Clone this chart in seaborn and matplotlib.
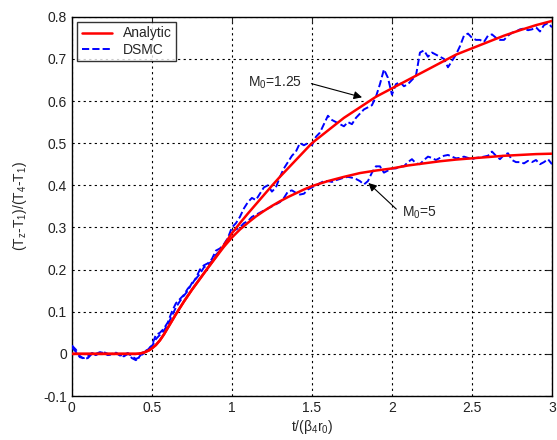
import numpy as np
import pandas as pd
import seaborn as sns
import matplotlib.pyplot as plt
from matplotlib.ticker import FormatStrFormatter

# analytic curves
t_an = [0, 0.1, 0.2, 0.3, 0.4, 0.42, 0.45, 0.48, 0.5, 0.525, 0.55, 0.575, 0.6, 0.625, 0.65, 0.7,
        0.75, 0.8, 0.85, 0.9, 0.95, 1.0, 1.05, 1.1, 1.15, 1.2, 1.25, 1.3, 1.35, 1.4, 1.45, 1.5,
        1.6, 1.7, 1.8, 1.9, 2.0, 2.1, 2.2, 2.3, 2.4, 2.5, 2.6, 2.7, 2.8, 2.9, 3.0]
an_hi = [0, 0, 0, 0, 0, 0.0005, 0.003, 0.008, 0.013, 0.021, 0.032, 0.046, 0.062, 0.078, 0.094, 0.124,
         0.152, 0.178, 0.204, 0.23, 0.258, 0.286, 0.31, 0.333, 0.355, 0.377, 0.399, 0.42, 0.44, 0.46, 0.48, 0.50,
         0.53, 0.56, 0.585, 0.61, 0.63, 0.65, 0.67, 0.69, 0.71, 0.725, 0.74, 0.755, 0.768, 0.78, 0.79]
an_lo = [0, 0, 0, 0, 0, 0.0005, 0.003, 0.008, 0.013, 0.021, 0.032, 0.046, 0.062, 0.078, 0.094, 0.124,
         0.152, 0.178, 0.204, 0.229, 0.254, 0.276, 0.295, 0.311, 0.326, 0.339, 0.351, 0.362, 0.372, 0.381, 0.39, 0.398,
         0.41, 0.42, 0.429, 0.435, 0.44, 0.447, 0.452, 0.457, 0.461, 0.464, 0.467, 0.47, 0.472, 0.474, 0.475]

# DSMC curves, sampled every 0.025
t_dsmc = np.linspace(0, 3, 121)
dsmc_hi = [0.02, 0.01, -0.005, -0.012, -0.01, 0.0, -0.003, 0.002, 0.004, 0.0,
           -0.004, 0.002, -0.002, -0.006, 0.0, -0.01, -0.015, -0.005, 0.005, 0.01,
           0.02, 0.045, 0.05, 0.06, 0.075, 0.1, 0.12, 0.13, 0.14, 0.155,
           0.165, 0.18, 0.2, 0.21, 0.215, 0.225, 0.245, 0.25, 0.26, 0.275,
           0.30, 0.31, 0.325, 0.345, 0.36, 0.37, 0.365, 0.38, 0.395, 0.40,
           0.385, 0.395, 0.42, 0.44, 0.455, 0.47, 0.48, 0.50, 0.495, 0.50,
           0.495, 0.515, 0.525, 0.545, 0.565, 0.555, 0.55, 0.545, 0.54, 0.55,
           0.545, 0.56, 0.57, 0.58, 0.585, 0.59, 0.61, 0.64, 0.675, 0.655,
           0.615, 0.64, 0.645, 0.635, 0.64, 0.65, 0.66, 0.715, 0.72, 0.705,
           0.715, 0.71, 0.705, 0.70, 0.68, 0.695, 0.71, 0.73, 0.755, 0.76,
           0.75, 0.745, 0.745, 0.74, 0.755, 0.758, 0.75, 0.745, 0.745, 0.755,
           0.762, 0.765, 0.77, 0.772, 0.768, 0.77, 0.775, 0.765, 0.78, 0.785,
           0.775]
dsmc_lo = [0.015, 0.005, -0.008, -0.01, -0.006, 0.002, 0.0, 0.004, 0.002, -0.003,
           0.0, 0.003, -0.004, -0.002, 0.002, -0.006, -0.012, -0.008, 0.002, 0.012,
           0.018, 0.035, 0.045, 0.055, 0.07, 0.09, 0.11, 0.125, 0.138, 0.15,
           0.168, 0.178, 0.19, 0.205, 0.212, 0.22, 0.235, 0.245, 0.255, 0.27,
           0.29, 0.295, 0.30, 0.31, 0.315, 0.325, 0.33, 0.335, 0.34, 0.345,
           0.35, 0.355, 0.36, 0.37, 0.385, 0.388, 0.382, 0.378, 0.38, 0.39,
           0.395, 0.40, 0.405, 0.41, 0.41, 0.408, 0.412, 0.415, 0.418, 0.42,
           0.418, 0.415, 0.41, 0.402, 0.41, 0.43, 0.445, 0.445, 0.43, 0.435,
           0.44, 0.44, 0.445, 0.445, 0.455, 0.462, 0.452, 0.45, 0.46, 0.468,
           0.465, 0.46, 0.465, 0.47, 0.472, 0.468, 0.464, 0.465, 0.468, 0.465,
           0.462, 0.465, 0.466, 0.468, 0.47, 0.48, 0.47, 0.462, 0.472, 0.476,
           0.46, 0.455, 0.455, 0.452, 0.458, 0.455, 0.46, 0.45, 0.455, 0.462,
           0.45]

sns.set_style("white")
plt.rcParams['font.family'] = ['Liberation Sans', 'DejaVu Sans']
plt.rcParams['mathtext.fontset'] = 'custom'
plt.rcParams['mathtext.rm'] = 'Liberation Sans'
plt.rcParams['mathtext.it'] = 'Liberation Sans'

fig = plt.figure(figsize=(5.57, 4.40), dpi=100)
ax = fig.add_axes([0.129, 0.10, 0.862, 0.862])

df_an = pd.DataFrame({'t': t_an, 'hi': an_hi, 'lo': an_lo})
df_ds = pd.DataFrame({'t': t_dsmc, 'hi': dsmc_hi, 'lo': dsmc_lo})

sns.lineplot(data=df_ds, x='t', y='hi', ax=ax, color='blue', lw=1.4, linestyle='--', label='DSMC', zorder=3)
sns.lineplot(data=df_ds, x='t', y='lo', ax=ax, color='blue', lw=1.4, linestyle='--', zorder=3)
sns.lineplot(data=df_an, x='t', y='hi', ax=ax, color='red', lw=1.8, label='Analytic', zorder=4)
sns.lineplot(data=df_an, x='t', y='lo', ax=ax, color='red', lw=1.8, zorder=4)

ax.set_xlim(0, 3)
ax.set_ylim(-0.1, 0.8)
ax.set_xticks(np.arange(0, 3.01, 0.5))
ax.set_yticks(np.arange(-0.1, 0.81, 0.1))
ax.xaxis.set_major_formatter(FormatStrFormatter('%g'))
ax.yaxis.set_major_formatter(plt.FuncFormatter(lambda v, p: '%g' % round(v, 2)))
ax.grid(True, color='black', linestyle=(0, (2, 3)), linewidth=0.8)
ax.tick_params(direction='in', length=4, labelsize=10, colors='#222222', top=True, right=True)
for s in ax.spines.values():
    s.set_color('black')
    s.set_linewidth(1.0)

ax.set_xlabel(r't/($\beta_4$r$_0$)', fontsize=10, labelpad=2)
ax.set_ylabel(r'(T$_z$-T$_1$)/(T$_4$-T$_1$)', fontsize=10, labelpad=10)

handles, labels = ax.get_legend_handles_labels()
order = [labels.index('Analytic'), labels.index('DSMC')]
leg = ax.legend([handles[i] for i in order], [labels[i] for i in order], loc='upper left',
                fontsize=10, frameon=True, fancybox=False, edgecolor='black',
                borderpad=0.3, handlelength=2.2, labelspacing=0.2, borderaxespad=0.4)
leg.get_frame().set_linewidth(1.0)

ax.annotate('', xy=(1.83, 0.607), xytext=(1.48, 0.643),
            arrowprops=dict(arrowstyle='-|>', color='black', lw=0.8, mutation_scale=12))
ax.text(1.10, 0.643, r'M$_0$=1.25', fontsize=10, va='center', ha='left')
ax.annotate('', xy=(1.84, 0.41), xytext=(2.04, 0.339),
            arrowprops=dict(arrowstyle='-|>', color='black', lw=0.8, mutation_scale=12))
ax.text(2.06, 0.335, r'M$_0$=5', fontsize=10, va='center', ha='left')

fig.savefig('out.png', dpi=100)
